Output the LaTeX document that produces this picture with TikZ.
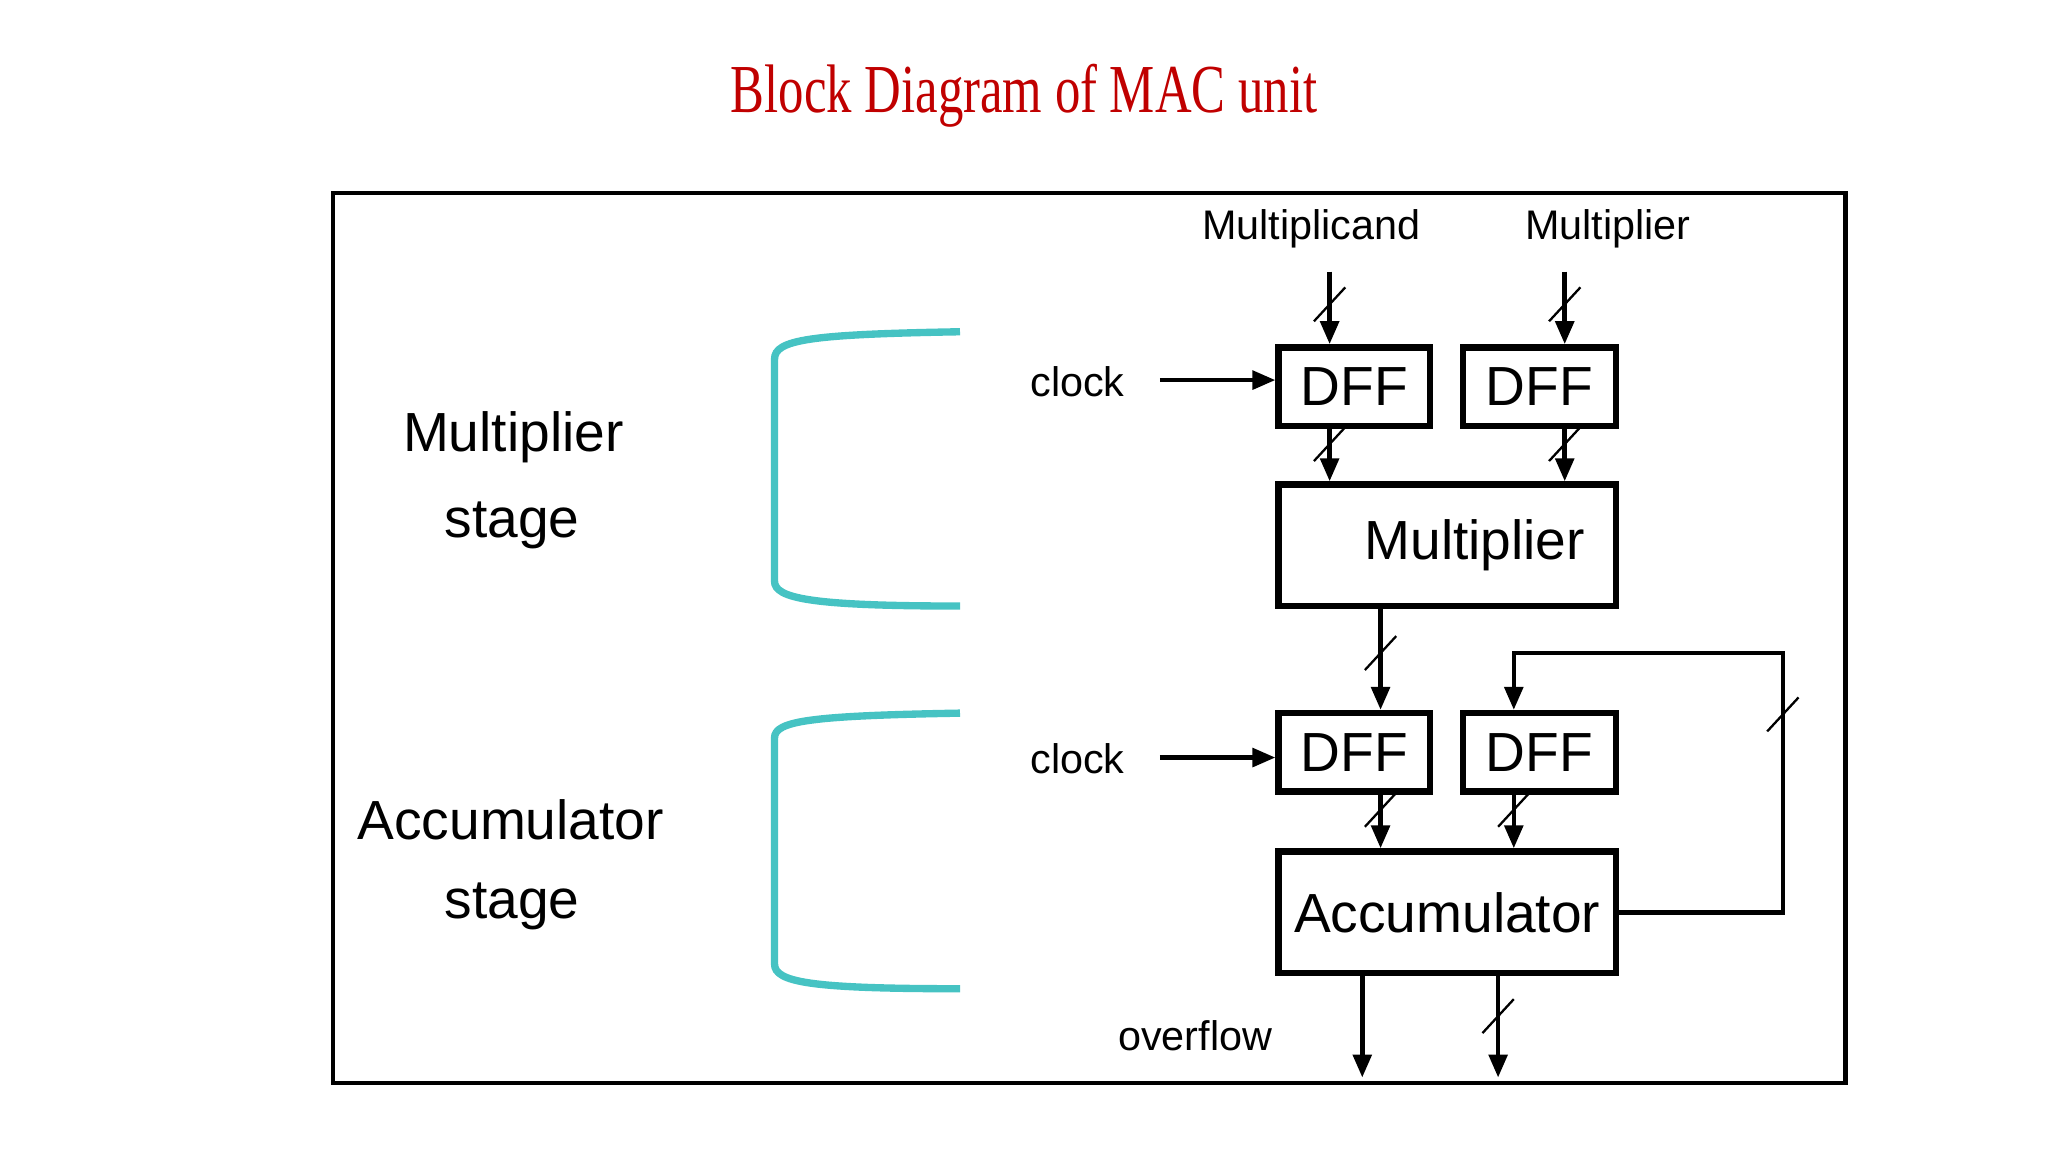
\documentclass[tikz,border=0pt]{standalone}
\usepackage{fontspec}
\setmainfont{Liberation Sans}
\newfontfamily\titlefont{Liberation Serif}
\usetikzlibrary{arrows.meta}
\definecolor{titlered}{RGB}{192,0,0}
\definecolor{brk}{RGB}{70,195,195}
\begin{document}
\begin{tikzpicture}[x=0.01cm,y=-0.01cm,
  blk/.style={draw,line width=1.4pt,inner sep=0,font=\fontsize{12}{14}\selectfont},
  io/.style={font=\fontsize{9}{11}\selectfont},
  stg/.style={font=\fontsize{12}{15}\selectfont},
  ar/.style={line width=1pt,-{Triangle[length=5pt,width=4pt]}},
  sl/.style={line width=0.5pt},
  br/.style={brk,line width=1.6pt}]
\useasboundingbox (0,0) rectangle (1568,882);
\node[text=titlered,font=\titlefont\fontsize{13}{16}\selectfont] (title) at (784,73) {\scalebox{0.85}[1.15]{Block Diagram of MAC unit}};
\draw[line width=0.9pt] (255,148) rectangle (1413,829);
\node[io] (mcand) at (1004,175) {Multiplicand};
\node[io] (mlier) at (1231,175) {Multiplier};
\node[blk,minimum width=1.16cm,minimum height=0.6cm] (d1) at (1037,296) {DFF};
\node[blk,minimum width=1.17cm,minimum height=0.6cm] (d2) at (1178.5,296) {DFF};
\node[blk,minimum width=2.58cm,minimum height=0.93cm] (mul) at (1108,417.5) {\hspace{12pt}Multiplier};
\node[blk,minimum width=1.16cm,minimum height=0.6cm] (d3) at (1037,576) {DFF};
\node[blk,minimum width=1.17cm,minimum height=0.6cm] (d4) at (1178.5,576) {DFF};
\node[blk,minimum width=2.58cm,minimum height=0.93cm] (acc) at (1108,698.5) {Accumulator};
\node[io] (c1) at (825,292) {clock};
\node[io] (c2) at (825,581) {clock};
\node[io] (ovf) at (915,793) {overflow};
\node[stg] (s1) at (393,335) {Multiplier};
\node[stg] (s2) at (392,402) {stage};
\node[stg] (s3) at (391,628) {Accumulator};
\node[stg] (s4) at (392,694) {stage};
\coordinate (a1) at (1018,208); \coordinate (a2) at (1198,208);
\draw[ar] (a1) -- (a1|-d1.north);
\draw[ar] (a2) -- (a2|-d2.north);
\draw[ar] (a1|-d1.south) -- (a1|-mul.north);
\draw[ar] (a2|-d2.south) -- (a2|-mul.north);
\coordinate (m) at (1057,0);
\draw[ar] (m|-mul.south) -- (m|-d3.north);
\coordinate (fb) at (1159,0);
\draw[ar] (m|-d3.south) -- (m|-acc.north);
\draw[ar] (fb|-d4.south) -- (fb|-acc.north);
\coordinate (fr) at (1365,500);
\draw[ar] (acc.east) -| (fr) -| (fb|-d4.north);
\draw[ar] (888,291) -- (d1.west|-0,291);
\draw[ar] (888,580) -- (d3.west|-0,580);
\coordinate (o1) at (1043,825); \coordinate (o2) at (1147,825);
\draw[ar] (o1|-acc.south) -- (o1);
\draw[ar] (o2|-acc.south) -- (o2);
\foreach \x/\y in {1018/233,1198/233,1018/340,1198/340,1057/500,1057/620,1159/620,1365/547,1147/778}
  \draw[sl] (\x-12,\y+13) -- (\x+12,\y-13);
\draw[br] (735,254) .. controls (620,256) and (593,260) .. (593,275) -- (593,445) .. controls (593,458) and (620,464) .. (735,464);
\draw[br] (735,546) .. controls (620,548) and (593,552) .. (593,565) -- (593,738) .. controls (593,752) and (620,757) .. (735,757);
\end{tikzpicture}
\end{document}
